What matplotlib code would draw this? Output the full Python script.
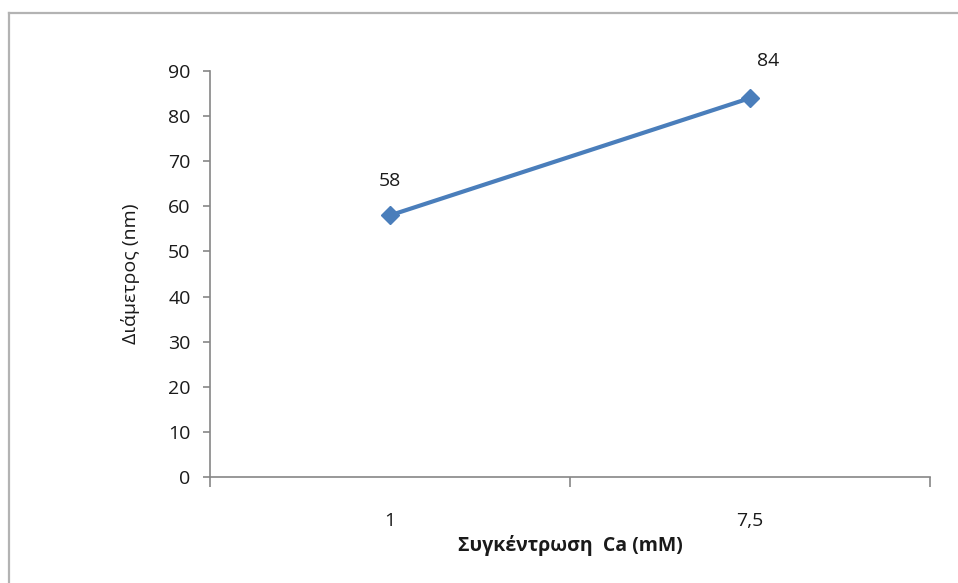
import matplotlib.pyplot as plt
from matplotlib.lines import Line2D

categories = ["1", "7,5"]
diameter = [58, 84]
y_ticks = [0, 10, 20, 30, 40, 50, 60, 70, 80, 90]

plt.rcParams['font.family'] = ['Open Sans', 'DejaVu Sans']

W, H = 958, 583
FS = 14
fig = plt.figure(figsize=(W / 100, H / 100), dpi=100)

# light gray chart frame (top and left edges visible)
fig.add_artist(Line2D([9 / W, 1], [1 - 13 / H, 1 - 13 / H], color="#b3b3b3", lw=1.6,
                      transform=fig.transFigure))
fig.add_artist(Line2D([9 / W, 9 / W], [0, 1 - 13 / H], color="#b3b3b3", lw=1.6,
                      transform=fig.transFigure))

ax = fig.add_axes([210 / W, 1 - 477 / H, 720 / W, 406 / H])
x = list(range(len(categories)))
ax.plot(x, diameter, color="#4a7ebb", lw=3, marker="D", markersize=9,
        markerfacecolor="#4a7ebb", markeredgecolor="#4a7ebb", clip_on=False)

offsets = [(0, 18), (13, 20)]
for xi, v, off in zip(x, diameter, offsets):
    ax.annotate(str(v), (xi, v), xytext=off, textcoords="offset points",
                ha="center", va="bottom", fontsize=FS, color="#1a1a1a")

ax.set_xlim(-0.5, len(categories) - 0.5)
ax.set_ylim(0, 90)
ax.set_yticks(y_ticks)
ax.set_xticks(x)
ax.set_xticklabels(categories)
ax.set_xticks([-0.5, 0.5, 1.5], minor=True)

for s in ["top", "right"]:
    ax.spines[s].set_visible(False)
for s in ["left", "bottom"]:
    ax.spines[s].set_color("#868686")
    ax.spines[s].set_linewidth(1.2)

ax.tick_params(axis="y", direction="out", length=5, width=1.2, color="#868686",
               labelsize=FS, pad=9, labelcolor="#1a1a1a")
ax.tick_params(axis="x", which="major", length=0, labelsize=FS, pad=25,
               labelcolor="#1a1a1a")
ax.tick_params(axis="x", which="minor", direction="out", length=7, width=1.2,
               color="#868686")

ax.set_xlabel("Συγκέντρωση  Ca (mM)", fontsize=FS, fontweight="bold",
              color="#1a1a1a", labelpad=4)
ax.set_ylabel("Διάμετρος (nm)", fontsize=FS, color="#1a1a1a", labelpad=20)

fig.savefig("out.png", dpi=100)
